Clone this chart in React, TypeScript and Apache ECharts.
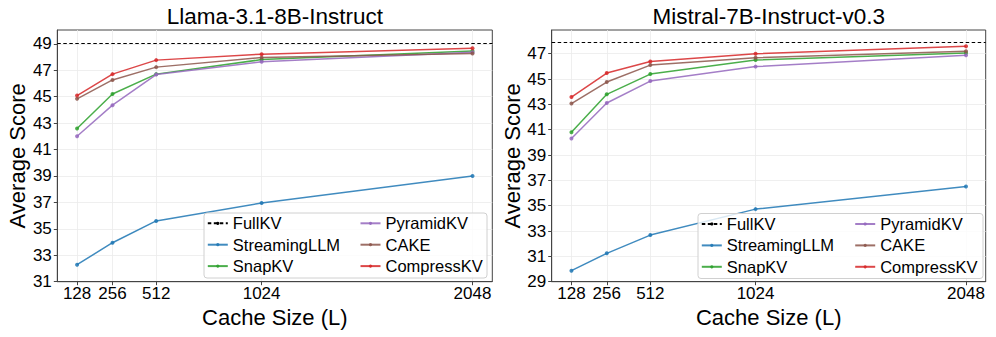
import React, { useEffect, useRef } from "react";
import * as echarts from "echarts";

// ---- data ----
const cacheSizeLabels = ["128", "256", "512", "1024", "2048"];
const xPositions = [128, 300, 512, 1024, 2048];

const llamaFullKV = 49.05;
const llamaStreaming = [32.29, 33.95, 35.6, 36.96, 39.0];
const llamaSnap = [42.59, 45.21, 46.71, 47.81, 48.47];
const llamaPyramid = [42.01, 44.36, 46.68, 47.64, 48.37];
const llamaCake = [44.84, 46.27, 47.24, 47.96, 48.27];
const llamaCompress = [45.09, 46.71, 47.77, 48.22, 48.67];

const mistralFullKV = 47.87;
const mistralStreaming = [29.87, 31.24, 32.68, 34.73, 36.52];
const mistralSnap = [40.8, 43.79, 45.39, 46.5, 47.05];
const mistralPyramid = [40.3, 43.11, 44.84, 45.98, 46.87];
const mistralCake = [43.06, 44.76, 46.1, 46.68, 47.2];
const mistralCompress = [43.58, 45.47, 46.39, 47.0, 47.58];

const llamaYTicks = [31, 33, 35, 37, 39, 41, 43, 45, 47, 49];
const mistralYTicks = [29, 31, 33, 35, 37, 39, 41, 43, 45, 47];

const titles = ["Llama-3.1-8B-Instruct", "Mistral-7B-Instruct-v0.3"];
const methodNames = ["StreamingLLM", "SnapKV", "PyramidKV", "CAKE", "CompressKV"];
const methodColors = ["#1f77b4", "#2ca02c", "#9467bd", "#8c564b", "#d62728"];

const FONT = "'Liberation Sans', Arial, sans-serif";

export default function App() {
  const ref = useRef<HTMLDivElement>(null);

  useEffect(() => {
    document.body.style.margin = "0";
    if (!ref.current) return;
    const chart = echarts.init(ref.current, null, { renderer: "svg" });

    const grids = [
      { left: 57.3, top: 30, width: 435, height: 251.7 },
      { left: 551.7, top: 30, width: 434, height: 251.7 },
    ];
    const yRanges = [
      { min: 31, max: 50.05, ticks: llamaYTicks },
      { min: 29, max: 48.87, ticks: mistralYTicks },
    ];
    const datasets = [
      { full: llamaFullKV, vals: [llamaStreaming, llamaSnap, llamaPyramid, llamaCake, llamaCompress] },
      { full: mistralFullKV, vals: [mistralStreaming, mistralSnap, mistralPyramid, mistralCake, mistralCompress] },
    ];

    const series: any[] = [];
    datasets.forEach((d, gi) => {
      series.push({
        name: "FullKV",
        type: "line",
        xAxisIndex: gi,
        yAxisIndex: gi,
        data: [],
        symbol: "none",
        color: "#000",
        lineStyle: { color: "#000", type: [3.5, 2.5], width: 1 },
        markLine: {
          silent: true,
          symbol: "none",
          label: { show: false },
          lineStyle: { color: "#000", type: [3.5, 2.5], width: 1 },
          data: [{ yAxis: d.full }],
        },
      });
      d.vals.forEach((v, k) => {
        series.push({
          name: methodNames[k],
          type: "line",
          xAxisIndex: gi,
          yAxisIndex: gi,
          data: v.map((y, i) => [xPositions[i], y]),
          symbol: "circle",
          symbolSize: 4,
          color: methodColors[k],
          lineStyle: { color: methodColors[k], width: 1.5, opacity: 0.85 },
          itemStyle: { color: methodColors[k], opacity: 0.85 },
          z: 2 + k * 0.01,
        });
      });
    });

    const legendCols = [
      { left: 206.8, top: 213.3, names: ["FullKV", "StreamingLLM", "SnapKV"] },
      { left: 359.5, top: 213.3, names: ["PyramidKV", "CAKE", "CompressKV"] },
      { left: 700.8, top: 214, names: ["FullKV", "StreamingLLM", "SnapKV"] },
      { left: 854.2, top: 214, names: ["PyramidKV", "CAKE", "CompressKV"] },
    ];

    const option: any = {
      animation: false,
      textStyle: { fontFamily: FONT },
      grid: grids.map((g) => ({
        ...g,
        show: true,
        borderColor: "#444",
        borderWidth: 1,
        backgroundColor: "transparent",
      })),
      xAxis: grids.map((_, i) => ({
        type: "value",
        gridIndex: i,
        min: 32,
        max: 2144,
        axisLine: { show: true, lineStyle: { color: "#444", width: 1 } },
        axisTick: {
          show: true,
          customValues: xPositions,
          length: 3.5,
          lineStyle: { color: "#444" },
        },
        axisLabel: {
          customValues: xPositions,
          formatter: (v: number) => {
            const idx = xPositions.indexOf(v);
            return idx >= 0 ? cacheSizeLabels[idx] : "";
          },
          fontSize: 17,
          color: "#000",
          margin: 3,
          fontFamily: FONT,
        },
        splitLine: { show: true, lineStyle: { color: "#ebebeb", width: 0.8 } },
        name: "Cache Size (L)",
        nameLocation: "middle",
        nameGap: 24,
        nameTextStyle: { fontSize: 22, color: "#000", fontFamily: FONT },
      })),
      yAxis: grids.map((_, i) => ({
        type: "value",
        gridIndex: i,
        min: yRanges[i].min,
        max: yRanges[i].max,
        axisLine: { show: true, lineStyle: { color: "#444", width: 1 } },
        axisTick: {
          show: true,
          customValues: yRanges[i].ticks,
          length: 3.5,
          lineStyle: { color: "#444" },
        },
        axisLabel: {
          customValues: yRanges[i].ticks,
          fontSize: 17,
          color: "#000",
          margin: 5.5,
          fontFamily: FONT,
        },
        splitLine: { show: true, lineStyle: { color: "#ebebeb", width: 0.8 } },
        name: "Average Score",
        nameLocation: "middle",
        nameGap: 25,
        nameTextStyle: { fontSize: 22, color: "#000", fontFamily: FONT },
      })),
      legend: legendCols.map((c) => ({
        show: true,
        orient: "vertical",
        left: c.left,
        top: c.top,
        padding: 0,
        itemGap: 1.4,
        itemWidth: 20,
        itemHeight: 4,
        data: c.names,
        selectedMode: false,
        textStyle: { fontSize: 16.5, color: "#000", lineHeight: 20, fontFamily: FONT },
        z: 5,
      })),
      graphic: [
        ...grids.map((g, i) => ({
          type: "text",
          x: g.left + g.width / 2,
          y: 16,
          style: {
            text: titles[i],
            textAlign: "center",
            textVerticalAlign: "middle",
            fontSize: 22.5,
            fontFamily: FONT,
            fill: "#000",
          },
        })),
        {
          type: "rect",
          z: 4,
          shape: { x: 204, y: 213, width: 283, height: 65, r: 3 },
          style: { fill: "rgba(255,255,255,0.8)", stroke: "#d0d0d0", lineWidth: 1 },
        },
        {
          type: "rect",
          z: 4,
          shape: { x: 698, y: 213.5, width: 285, height: 65, r: 3 },
          style: { fill: "rgba(255,255,255,0.8)", stroke: "#d0d0d0", lineWidth: 1 },
        },
      ],
      series,
    };

    chart.setOption(option);
    return () => {
      chart.dispose();
    };
  }, []);

  return <div ref={ref} style={{ width: 996, height: 337 }} />;
}
